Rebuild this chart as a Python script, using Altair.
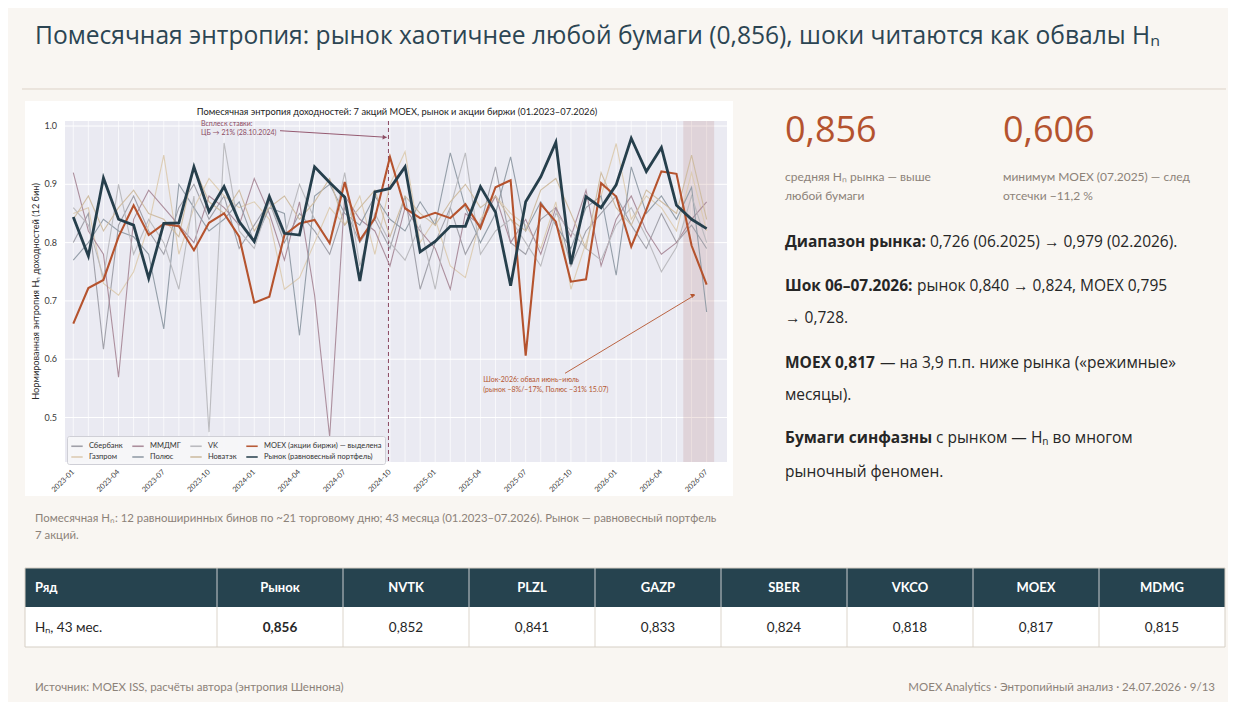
import altair as alt
import pandas as pd

# ---------------- data ----------------
months = [f"{y}-{m:02d}" for y in range(2023, 2027) for m in range(1, 13)][:43]
ytick_values = [0.5, 0.6, 0.7, 0.8, 0.9, 1.0]

sber = [0.80, 0.85, 0.617, 0.83, 0.88, 0.82, 0.78, 0.86, 0.90, 0.84,
        0.88, 0.79, 0.83, 0.87, 0.80, 0.85, 0.82, 0.78, 0.86, 0.80,
        0.84, 0.79, 0.88, 0.72, 0.80, 0.86, 0.78, 0.83, 0.93, 0.80,
        0.78, 0.84, 0.86, 0.76, 0.82, 0.85, 0.88, 0.83, 0.79, 0.85,
        0.80, 0.83, 0.79]
gazp = [0.85, 0.86, 0.73, 0.71, 0.75, 0.83, 0.95, 0.78, 0.86, 0.91,
        0.88, 0.86, 0.87, 0.84, 0.72, 0.74, 0.80, 0.86, 0.83, 0.88,
        0.78, 0.90, 0.956, 0.80, 0.84, 0.76, 0.74, 0.84, 0.88, 0.85,
        0.83, 0.79, 0.87, 0.72, 0.80, 0.88, 0.97, 0.84, 0.88, 0.86,
        0.82, 0.92, 0.82]
mdmg = [0.92, 0.82, 0.78, 0.569, 0.84, 0.89, 0.86, 0.83, 0.80, 0.88,
        0.86, 0.83, 0.91, 0.85, 0.77, 0.87, 0.71, 0.467, 0.88, 0.84,
        0.82, 0.76, 0.86, 0.82, 0.79, 0.72, 0.85, 0.83, 0.88, 0.80,
        0.84, 0.78, 0.86, 0.81, 0.89, 0.76, 0.84, 0.88, 0.82, 0.78,
        0.80, 0.84, 0.87]
plzl = [0.77, 0.80, 0.84, 0.82, 0.81, 0.78, 0.652, 0.90, 0.86, 0.82,
        0.84, 0.87, 0.80, 0.86, 0.85, 0.641, 0.88, 0.90, 0.85, 0.83,
        0.88, 0.84, 0.82, 0.87, 0.83, 0.954, 0.86, 0.80, 0.85, 0.947,
        0.82, 0.87, 0.83, 0.79, 0.86, 0.88, 0.744, 0.93, 0.85, 0.88,
        0.84, 0.895, 0.681]
vkco = [0.86, 0.83, 0.74, 0.90, 0.78, 0.84, 0.80, 0.72, 0.88, 0.475,
        0.971, 0.82, 0.79, 0.87, 0.81, 0.90, 0.84, 0.80, 0.92, 0.76,
        0.85, 0.80, 0.77, 0.83, 0.72, 0.86, 0.954, 0.78, 0.82, 0.84,
        0.80, 0.76, 0.85, 0.82, 0.79, 0.77, 0.83, 0.86, 0.81, 0.75,
        0.792, 0.88, 0.80]
nvtk = [0.84, 0.88, 0.82, 0.86, 0.89, 0.85, 0.84, 0.81, 0.93, 0.87,
        0.85, 0.89, 0.82, 0.86, 0.88, 0.84, 0.87, 0.91, 0.83, 0.86,
        0.89, 0.81, 0.88, 0.85, 0.83, 0.87, 0.90, 0.86, 0.88, 0.84,
        0.82, 0.89, 0.91, 0.85, 0.79, 0.92, 0.86, 0.83, 0.89, 0.87,
        0.85, 0.95, 0.84]
moex = [0.661, 0.722, 0.736, 0.810, 0.864, 0.813, 0.832, 0.828, 0.787, 0.834,
        0.850, 0.810, 0.697, 0.707, 0.813, 0.833, 0.839, 0.799, 0.904, 0.804,
        0.842, 0.947, 0.859, 0.842, 0.851, 0.842, 0.866, 0.825, 0.895, 0.907,
        0.606, 0.866, 0.836, 0.733, 0.737, 0.902, 0.879, 0.793, 0.856, 0.922,
        0.918, 0.795, 0.728]
market = [0.844, 0.777, 0.911, 0.840, 0.830, 0.739, 0.833, 0.834, 0.930, 0.853,
          0.896, 0.836, 0.802, 0.879, 0.816, 0.813, 0.930, 0.903, 0.878, 0.734,
          0.887, 0.893, 0.930, 0.784, 0.802, 0.828, 0.828, 0.896, 0.852, 0.726,
          0.870, 0.913, 0.972, 0.763, 0.879, 0.860, 0.899, 0.979, 0.922, 0.963,
          0.864, 0.840, 0.824]

N_SBER, N_GAZP, N_MDMG = "Сбербанк", "Газпром", "ММДМГ"
N_PLZL, N_VK, N_NVTK = "Полюс", "VK", "Новатэк"
N_MOEX = "MOEX (акции биржи) — выделена"
N_MKT = "Рынок (равновесный портфель)"

thin_series = {N_SBER: sber, N_GAZP: gazp, N_MDMG: mdmg,
               N_PLZL: plzl, N_VK: vkco, N_NVTK: nvtk}
legend_order = [N_SBER, N_GAZP, N_MDMG, N_PLZL, N_VK, N_NVTK, N_MOEX, N_MKT]
legend_colors = ["#9d9da5", "#dccbb1", "#a98a99", "#8f9aa4",
                 "#b8b8bd", "#cdbb9f", "#b5532e", "#263f4c"]

table_tickers = ["Рынок", "NVTK", "PLZL", "GAZP", "SBER", "VKCO", "MOEX", "MDMG"]
table_values = [0.856, 0.852, 0.841, 0.833, 0.824, 0.818, 0.817, 0.815]


def long(name, vals):
    return pd.DataFrame({"i": list(range(len(vals))), "month": months[:len(vals)],
                         "series": name, "v": vals})


df_thin = pd.concat([long(k, v) for k, v in thin_series.items()], ignore_index=True)
df_moex = long(N_MOEX, moex)
df_mkt = long(N_MKT, market)
df_months = pd.DataFrame({"i": list(range(len(months))), "month": months})
df_xt = df_months.iloc[::3]
df_yt = pd.DataFrame({"t": ytick_values})
df_tbl = pd.DataFrame({"k": list(range(1, len(table_tickers) + 1)),
                       "name": table_tickers,
                       "val": [f"{v:.3f}".replace(".", ",") for v in table_values]})
ONE = pd.DataFrame({"_": [0]})

# ---------------- styling ----------------
BG = "#f9f6f2"
UI = "Open Sans"
NARROW = "Lato"
GREY = "#8c8279"
DARK = "#262626"
ORANGE = "#b4532f"
MAUVE = "#8b4a62"

XS = alt.Scale(domain=[-0.55, 43.35], range=[57, 719], nice=False, zero=False)
YS = alt.Scale(domain=[0.4237, 1.0086], range=[454, 113], nice=False, zero=False)
TS = alt.Scale(domain=[0.5, 8.5], range=[209, 1217], nice=False, zero=False)
CS = alt.Scale(domain=legend_order, range=legend_colors)

LEG = alt.Legend(
    title=None, orient="none", legendX=59, legendY=428, columns=4,
    symbolType="stroke", symbolSize=130, symbolStrokeWidth=1.6,
    labelFont=NARROW, labelFontSize=7.5, labelColor="#333", labelLimit=300,
    fillColor="rgba(246,246,249,0.92)", strokeColor="#cfcfd6", padding=3,
    rowPadding=0, columnPadding=6, labelOffset=5, cornerRadius=2,
)


def text(s, x, y, size, color=DARK, font=UI, weight="normal", align="left",
         baseline="middle", angle=0):
    return alt.Chart(ONE).mark_text(
        text=s, fontSize=size, color=color, font=font, fontWeight=weight,
        align=align, baseline=baseline, angle=angle
    ).encode(x=alt.value(x), y=alt.value(y))


def box(x, x2, y, y2, fill):
    return alt.Chart(ONE).mark_rect(color=fill).encode(
        x=alt.value(x), x2=alt.value(x2), y=alt.value(y), y2=alt.value(y2))


def hline(x, x2, y, color, width=1):
    return alt.Chart(ONE).mark_rule(color=color, strokeWidth=width).encode(
        x=alt.value(x), x2=alt.value(x2), y=alt.value(y), y2=alt.value(y))


def arrow(x, y, x2, y2, color, angle):
    line = alt.Chart(ONE).mark_rule(color=color, strokeWidth=0.9).encode(
        x=alt.value(x), x2=alt.value(x2), y=alt.value(y), y2=alt.value(y2))
    head = alt.Chart(ONE).mark_point(shape="triangle-right", filled=True, size=22,
                                     angle=angle, color=color, opacity=1).encode(
        x=alt.value(x2 - 2), y=alt.value(y2))
    return [line, head]


layers = []

# slide title + rule
layers.append(text("Помесячная энтропия: рынок хаотичнее любой бумаги (0,856), шоки читаются как обвалы Hₙ",
                   27, 29, 24.6, color="#2c4553"))
layers.append(hline(14, 1218, 81, "#ddd3c8"))

# chart panel
layers.append(box(17, 725, 93, 488, "#ffffff"))
layers.append(box(57, 719, 113, 454, "#eaeaf2"))

# grid
layers.append(alt.Chart(df_months).mark_rule(color="white", strokeWidth=0.8, opacity=0.85).encode(
    x=alt.X("i:Q", scale=XS, axis=None), y=alt.value(113), y2=alt.value(454)))
layers.append(alt.Chart(df_yt).mark_rule(color="white", strokeWidth=1).encode(
    y=alt.Y("t:Q", scale=YS, axis=None), x=alt.value(57), x2=alt.value(719)))

# shock shading and CB dashed line
layers.append(alt.Chart(ONE).mark_rect(color="#a0524d", opacity=0.15).encode(
    x=alt.XDatum(40.45, scale=XS, axis=None), x2=alt.X2Datum(42.5),
    y=alt.value(113), y2=alt.value(454)))
layers.append(alt.Chart(ONE).mark_rule(color=MAUVE, strokeDash=[4, 3], strokeWidth=1).encode(
    x=alt.XDatum(20.9, scale=XS, axis=None), y=alt.value(113), y2=alt.value(454)))

# lines
layers.append(alt.Chart(df_thin).mark_line(strokeWidth=1.1, opacity=0.95).encode(
    x=alt.X("i:Q", scale=XS, axis=None), y=alt.Y("v:Q", scale=YS, axis=None),
    color=alt.Color("series:N", scale=CS, legend=LEG)))
layers.append(alt.Chart(df_moex).mark_line(strokeWidth=2.1).encode(
    x=alt.X("i:Q", scale=XS, axis=None), y=alt.Y("v:Q", scale=YS, axis=None),
    color=alt.Color("series:N", scale=CS, legend=LEG)))
layers.append(alt.Chart(df_mkt).mark_line(strokeWidth=2.8).encode(
    x=alt.X("i:Q", scale=XS, axis=None), y=alt.Y("v:Q", scale=YS, axis=None),
    color=alt.Color("series:N", scale=CS, legend=LEG)))

# axes labels
layers.append(alt.Chart(df_yt).mark_text(align="right", baseline="middle", fontSize=9,
                                         font=NARROW, color="#3a3a3a").encode(
    y=alt.Y("t:Q", scale=YS, axis=None), x=alt.value(49), text=alt.Text("t:Q", format=".1f")))
layers.append(alt.Chart(df_xt).mark_text(align="right", baseline="middle", fontSize=7.4,
                                         font=NARROW, color="#3a3a3a", angle=315).encode(
    x=alt.X("i:Q", scale=XS, axis=None), y=alt.value(463), text="month:N"))
layers.append(text("Нормированная энтропия Hₙ доходностей (12 бин)", 28, 283.5, 9.2,
                   color="#2a2a2a", font=NARROW, align="center", angle=270))
layers.append(text("Помесячная энтропия доходностей: 7 акций MOEX, рынок и акции биржи (01.2023–07.2026)",
                   389, 104, 9.3, color="#222", font=NARROW, align="center"))

# annotations
layers.append(text("Всплеск ставки:", 193, 116, 7, color=MAUVE, font=NARROW))
layers.append(text("ЦБ → 21% (28.10.2024)", 193, 124.5, 7, color=MAUVE, font=NARROW))
layers += arrow(272, 122.7, 378.7, 129.3, MAUVE, 3.5)
layers.append(text("Шок-2026: обвал июнь–июль", 475.3, 372, 7, color="#b4552f", font=NARROW))
layers.append(text("(рынок −8%/−17%, Полюс −31% 15.07)", 475.3, 382, 7, color="#b4552f", font=NARROW))
layers += arrow(557, 365.3, 687, 287, "#b4552f", 329)

# caption under chart
layers.append(text("Помесячная Hₙ: 12 равноширинных бинов по ~21 торговому дню; 43 месяца (01.2023–07.2026). Рынок — равновесный портфель",
                   27, 511, 11.4, color=GREY, font=NARROW))
layers.append(text("7 акций.", 27, 528, 11.4, color=GREY, font=NARROW))

# KPI block
layers.append(text("0,856", 777, 134, 36, color=ORANGE, baseline="alphabetic"))
layers.append(text("0,606", 995, 134, 36, color=ORANGE, baseline="alphabetic"))
layers.append(text("средняя Hₙ рынка — выше", 777, 168.7, 12, color=GREY, font=NARROW))
layers.append(text("любой бумаги", 777, 187.7, 12, color=GREY, font=NARROW))
layers.append(text("минимум MOEX (07.2025) — след", 995, 168.7, 12, color=GREY, font=NARROW))
layers.append(text("отсечки −11,2 %", 995, 187.7, 12, color=GREY, font=NARROW))

# paragraphs
P = 15.5
layers.append(text("Диапазон рынка:", 777, 233.7, P, weight="bold"))
layers.append(text("0,726 (06.2025) → 0,979 (02.2026).", 922, 233.7, P))
layers.append(text("Шок 06–07.2026:", 777, 277.7, P, weight="bold"))
layers.append(text("рынок 0,840 → 0,824, MOEX 0,795", 909, 277.7, P))
layers.append(text("→ 0,728.", 777, 310.3, P))
layers.append(text("MOEX 0,817", 777, 354.7, P, weight="bold"))
layers.append(text("— на 3,9 п.п. ниже рынка («режимные»", 872, 354.7, P))
layers.append(text("месяцы).", 777, 387, P))
layers.append(text("Бумаги синфазны", 777, 430.3, P, weight="bold"))
layers.append(text("с рынком — Hₙ во многом", 928, 430.3, P))
layers.append(text("рыночный феномен.", 777, 463.7, P))

# table
layers.append(box(17, 1217, 599, 639, "#ffffff"))
layers.append(box(17, 1217, 560, 599, "#26434f"))
layers.append(alt.Chart(df_tbl).transform_calculate(kb="datum.k - 0.5").mark_rule(
    color="#dcd5cb", strokeWidth=1).encode(
    x=alt.X("kb:Q", scale=TS, axis=None), y=alt.value(599), y2=alt.value(639)))
layers.append(alt.Chart(df_tbl).transform_calculate(kb="datum.k - 0.5").mark_rule(
    color="#c9cdd0", strokeWidth=1).encode(
    x=alt.X("kb:Q", scale=TS, axis=None), y=alt.value(560), y2=alt.value(599)))
layers.append(alt.Chart(ONE).mark_rect(fill=None, stroke="#d6cfc5", strokeWidth=1).encode(
    x=alt.value(17), x2=alt.value(1217), y=alt.value(560), y2=alt.value(639)))
layers.append(text("Ряд", 27, 580, 13, color="white", font=NARROW, weight="bold"))
layers.append(text("Hₙ, 43 мес.", 27, 620, 13.5, color=DARK, font=NARROW))
layers.append(alt.Chart(df_tbl).mark_text(fontSize=13, font=NARROW, fontWeight="bold",
                                          color="white", baseline="middle").encode(
    x=alt.X("k:Q", scale=TS, axis=None), y=alt.value(580), text="name:N"))
layers.append(alt.Chart(df_tbl).transform_filter("datum.k == 1").mark_text(
    fontSize=13.5, font=NARROW, fontWeight="bold", color=DARK, baseline="middle").encode(
    x=alt.X("k:Q", scale=TS, axis=None), y=alt.value(620), text="val:N"))
layers.append(alt.Chart(df_tbl).transform_filter("datum.k > 1").mark_text(
    fontSize=13.5, font=NARROW, color=DARK, baseline="middle").encode(
    x=alt.X("k:Q", scale=TS, axis=None), y=alt.value(620), text="val:N"))

# footer
layers.append(text("Источник: MOEX ISS, расчёты автора (энтропия Шеннона)", 27, 680, 11.5,
                   color=GREY, font=NARROW))
layers.append(text("MOEX Analytics · Энтропийный анализ · 24.07.2026 · 9/13", 1207, 680, 11.5,
                   color=GREY, font=NARROW, align="right"))

chart = alt.layer(*layers).resolve_scale(x="independent").properties(
    width=1220, height=694, padding=0,
    autosize=alt.AutoSizeParams(type="none"), background=BG,
).configure_view(stroke=None)

chart.save("out.html", embed_options={"renderer": "svg", "actions": False})
